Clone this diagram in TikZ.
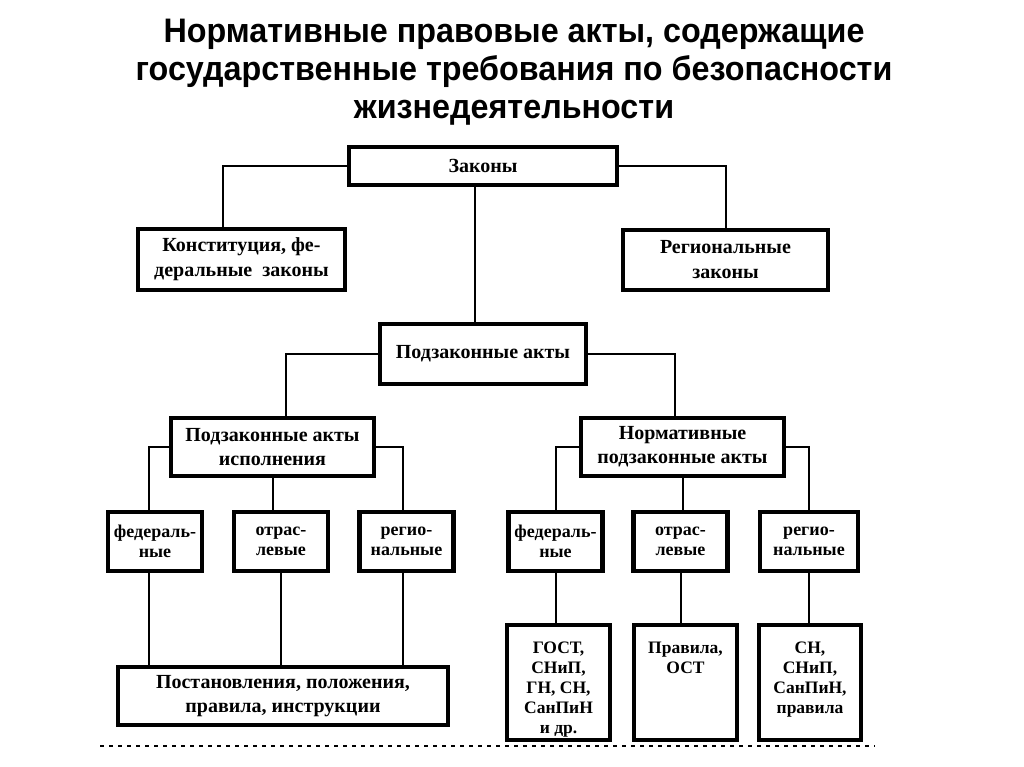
\documentclass[tikz,border=0pt]{standalone}
\usepackage{fontspec}
\setmainfont{Liberation Serif}
\newfontfamily\titlefont[FakeStretch=0.95]{Liberation Sans}
\usetikzlibrary{calc}

\begin{document}
\begin{tikzpicture}[x=1pt,y=-1pt,
    box/.style={draw, line width=4.5pt, align=center, inner sep=0pt,
      font=\bfseries\fontsize{20}{24}\selectfont},
    smallbox/.style={box, minimum width=94pt, minimum height=59pt,
      font=\bfseries\fontsize{18}{20}\selectfont},
    tallbox/.style={box, minimum width=103pt, minimum height=115pt},
    intext/.style={anchor=north, align=center, inner sep=0pt, yshift=-19pt,
      font=\bfseries\fontsize{17.5}{20}\selectfont},
    link/.style={line width=2pt}]
  \useasboundingbox (0,0) rectangle (1024,767);
  % title
  \node[font=\titlefont\bfseries\fontsize{34}{38}\selectfont, align=center] (title) at (514,72)
    {Нормативные правовые акты, содержащие\\государственные требования по безопасности\\жизнедеятельности};
  % laws
  \node[box, minimum width=268pt, minimum height=38pt] (zakony) at (483,166) {Законы};
  \node[box, minimum width=207pt, minimum height=61pt, font=\bfseries\fontsize{20}{25}\selectfont] (konst) at (241.5,259.5) {Конституция, фе-\\деральные\ \ законы};
  \node[box, minimum width=205pt, minimum height=60pt, font=\bfseries\fontsize{20}{25}\selectfont] (regzak) at (725.5,260) {Региональные\\законы};
  % by-laws
  \node[box, minimum width=206pt, minimum height=60pt] (podzak) at (483,354) {Подзаконные акты};
  \node[box, minimum width=203pt, minimum height=58pt] (ispoln) at (272.5,447) {Подзаконные акты\\исполнения};
  \node[box, minimum width=203pt, minimum height=58pt] (normpod) at (682.5,447) {Нормативные\\подзаконные акты};
  % left branch
  \node[smallbox] (fedisp) at (155,541.5) {федераль-\\ные};
  \node[smallbox] (otrisp) at (281,541.5) {отрас-\\левые};
  \node[smallbox] (regisp) at (406.5,541.5) {регио-\\нальные};
  \node[box, minimum width=330pt, minimum height=58pt] (postan) at (283,696)
    {Постановления, положения,\\правила, инструкции};
  % right branch
  \node[smallbox] (fednorm) at (555.5,541.5) {федераль-\\ные};
  \node[smallbox] (otrnorm) at (680.5,541.5) {отрас-\\левые};
  \node[smallbox, minimum width=98pt] (regnorm) at (809,541.5) {регио-\\нальные};
  \node[tallbox, label={[intext]north:{ГОСТ,\\СНиП,\\ГН, СН,\\СанПиН\\и др.}}] (gost) at (558.5,682.5) {};
  \node[tallbox, label={[intext]north:{Правила,\\ОСТ}}] (pravila) at (685.5,682.5) {};
  \node[tallbox, minimum width=102pt, label={[intext]north:{СН,\\СНиП,\\СанПиН,\\правила}}] (snip) at (810,682.5) {};
  % connectors
  \draw[link] (zakony.west) -| ($(konst.north)+(-19,0)$);
  \draw[link] (zakony.east) -| (regzak.north);
  \draw[link] ($(zakony.south)+(-8,0)$) -- ($(podzak.north)+(-8,0)$);
  \draw[link] (podzak.west) -| ($(ispoln.north)+(13,0)$);
  \draw[link] (podzak.east) -| ($(normpod.north)+(-8,0)$);
  \draw[link] (ispoln.west) -| ($(fedisp.north)+(-6,0)$);
  \draw[link] (ispoln.south) -- (ispoln.south |- otrisp.north);
  \draw[link] (ispoln.east) -| ($(regisp.north)+(-4,0)$);
  \draw[link] ($(fedisp.south)+(-6,0)$) -- ($(fedisp.south |- postan.north)+(-6,0)$);
  \draw[link] (otrisp.south) -- (otrisp.south |- postan.north);
  \draw[link] ($(regisp.south)+(-4,0)$) -- ($(regisp.south |- postan.north)+(-4,0)$);
  \draw[link] (normpod.west) -| (fednorm.north);
  \draw[link] (normpod.south) -- (normpod.south |- otrnorm.north);
  \draw[link] (normpod.east) -| (regnorm.north);
  \draw[link] (fednorm.south) -- (fednorm.south |- gost.north);
  \draw[link] (otrnorm.south) -- (otrnorm.south |- pravila.north);
  \draw[link] (regnorm.south) -- (regnorm.south |- snip.north);
  % page edge
  \draw[line width=1.5pt, dash pattern=on 4pt off 5pt] (100,746) -- (875,746);
\end{tikzpicture}
\end{document}
